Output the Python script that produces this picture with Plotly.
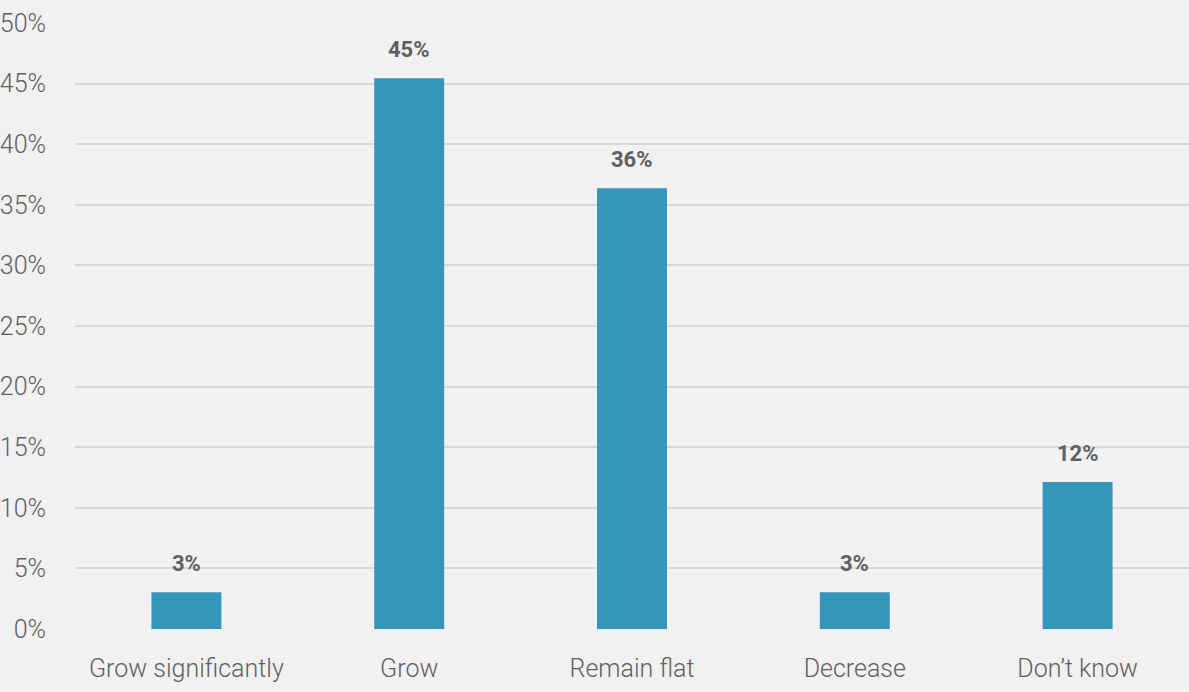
import plotly.graph_objects as go

categories = ["Grow significantly", "Grow", "Remain flat", "Decrease", "Don\u2019t know"]
values = [3.03, 45.45, 36.36, 3.03, 12.12]
y_ticks = [0, 5, 10, 15, 20, 25, 30, 35, 40, 45, 50]
y_tick_labels = [f"{t}%" for t in y_ticks]

FONT = "Roboto, sans-serif"
TEXT_GRAY = "#5f6062"

fig = go.Figure(
    go.Bar(
        x=categories,
        y=values,
        marker=dict(color="#3596bc", line=dict(width=0)),
        hoverinfo="skip",
    )
)

# value labels sitting above each bar
for cat, v in zip(categories, values):
    fig.add_annotation(
        x=cat,
        y=v,
        text=f"{v:.0f}%",
        showarrow=False,
        yanchor="bottom",
        yshift=14,
        font=dict(family=FONT, size=22, color=TEXT_GRAY, weight="bold"),
    )

fig.update_layout(
    width=1189,
    height=692,
    margin=dict(l=73, r=0, t=23, b=63),
    paper_bgcolor="#f1f1f1",
    plot_bgcolor="#f1f1f1",
    bargap=0.686,
    showlegend=False,
    font=dict(family=FONT, color=TEXT_GRAY),
)
fig.update_yaxes(
    range=[0, 50],
    tickvals=y_ticks,
    ticktext=y_tick_labels,
    showgrid=True,
    gridcolor="#d9d9d9",
    gridwidth=2,
    zeroline=False,
    showline=False,
    tickfont=dict(family=FONT, size=25, color=TEXT_GRAY, weight=300),
    ticklabelstandoff=28,
)
fig.update_xaxes(
    showline=False,
    tickfont=dict(family=FONT, size=25, color=TEXT_GRAY, weight=300),
    ticklabelstandoff=22,
)

fig.write_html("out.html")
